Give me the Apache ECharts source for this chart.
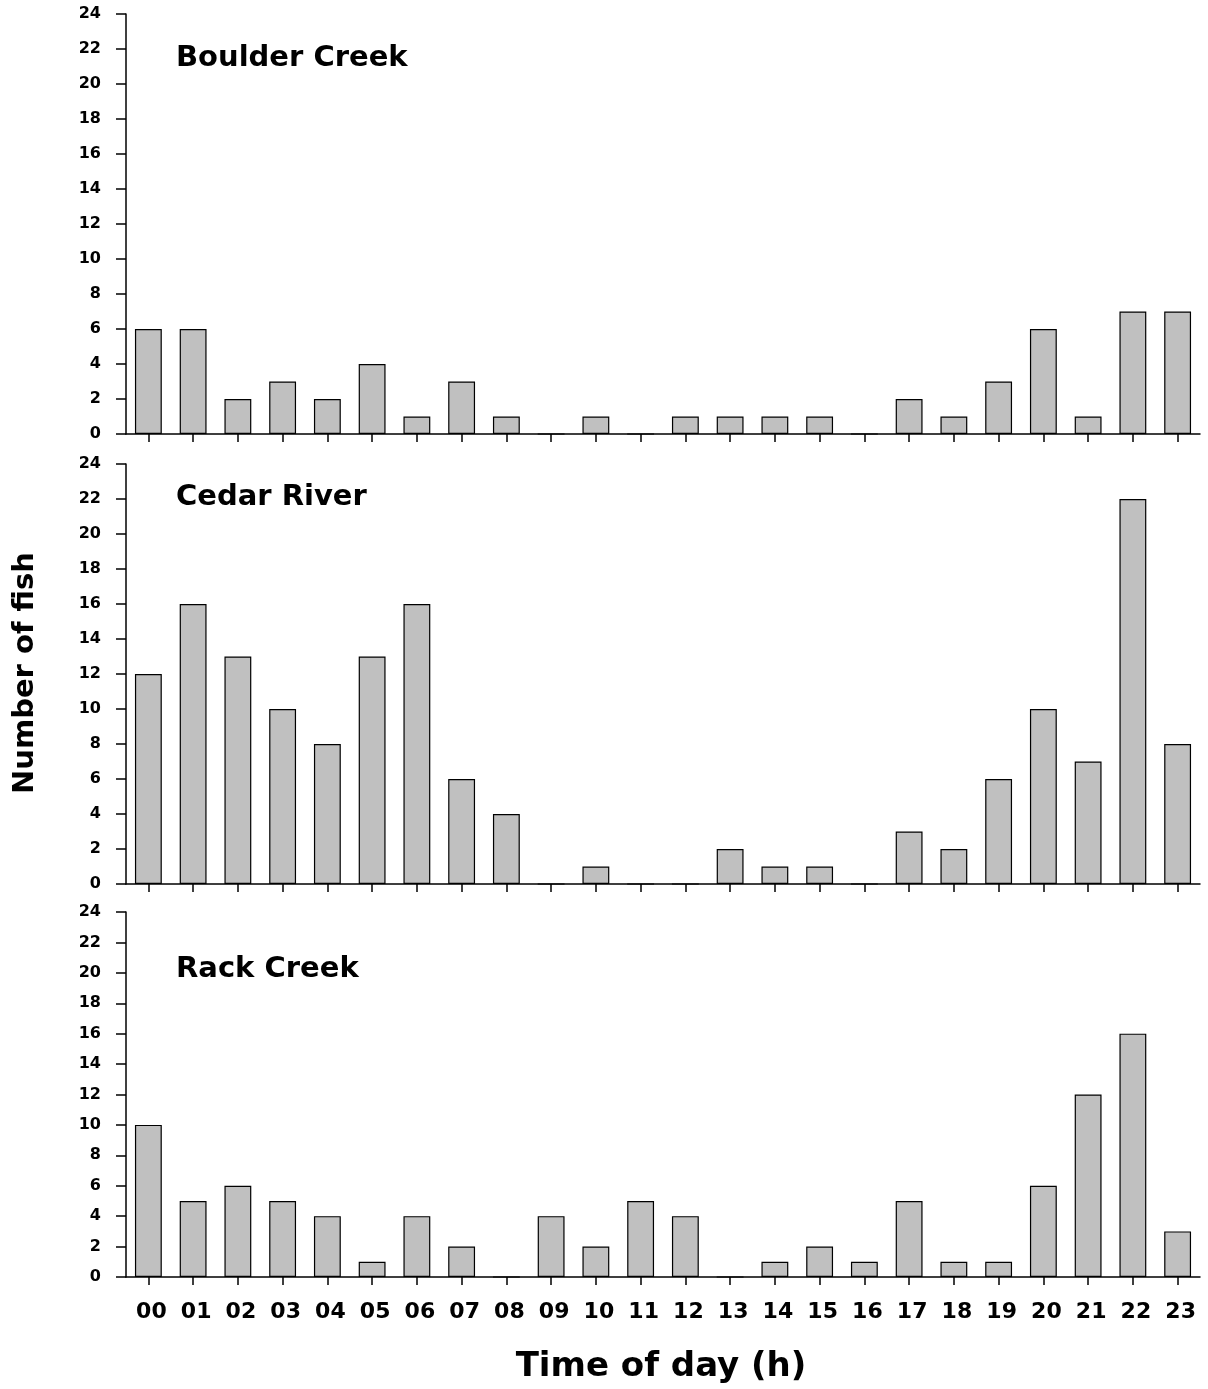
<!DOCTYPE html>
<html>
<head>
<meta charset="utf-8">
<script src="https://cdn.jsdelivr.net/npm/echarts@6/dist/echarts.min.js"></script>
<style>
  html, body { margin: 0; padding: 0; background: #fff; }
  #chart { width: 1208px; height: 1389px; }
</style>
</head>
<body>
<div id="chart"></div>
<script>
// Hours of the day (category axis)
const hours = ['00','01','02','03','04','05','06','07','08','09','10','11',
               '12','13','14','15','16','17','18','19','20','21','22','23'];

// Number of fish per hour at each site
const boulderCreek = [6, 6, 2, 3, 2, 4, 1, 3, 1, 0, 1, 0, 1, 1, 1, 1, 0, 2, 1, 3, 6, 1, 7, 7];
const cedarRiver   = [12, 16, 13, 10, 8, 13, 16, 6, 4, 0, 1, 0, 0, 2, 1, 1, 0, 3, 2, 6, 10, 7, 22, 8];
const rackCreek    = [10, 5, 6, 5, 4, 1, 4, 2, 0, 4, 2, 5, 4, 0, 1, 2, 1, 5, 1, 1, 6, 12, 16, 3];

const siteNames = ['Boulder Creek', 'Cedar River', 'Rack Creek'];
const siteData = [boulderCreek, cedarRiver, rackCreek];

const FONT = 'DejaVu Sans';
const chart = echarts.init(document.getElementById('chart'));

// Panel boxes: top and height of each plot area, plus the site label line
const panels = [
  { top: 14,  height: 420, titleY: 58 },
  { top: 464, height: 420, titleY: 497 },
  { top: 912, height: 365, titleY: 969 }
];

const axisLine = { show: true, lineStyle: { color: '#000', width: 1.5 } };

const grid = panels.map(p => ({ left: 126, right: 8, top: p.top, height: p.height, containLabel: false }));

const xAxis = panels.map((p, i) => ({
  type: 'category',
  gridIndex: i,
  data: hours,
  boundaryGap: true,
  axisLine: axisLine,
  axisTick: { show: true, alignWithLabel: true, length: 8, lineStyle: { color: '#000', width: 1.5 } },
  axisLabel: {
    show: i === 2,
    interval: 0,
    margin: 24,
    color: '#000',
    fontFamily: FONT,
    fontWeight: 'bold',
    fontSize: 22,
    padding: [0, 0, 0, 6]
  },
  splitLine: { show: false }
}));

const yAxis = panels.map((p, i) => ({
  type: 'value',
  gridIndex: i,
  min: 0,
  max: 24,
  interval: 2,
  axisLine: axisLine,
  axisTick: { show: true, length: 10, lineStyle: { color: '#000', width: 1.5 } },
  axisLabel: {
    margin: 25,
    color: '#000',
    fontFamily: FONT,
    fontWeight: 'bold',
    fontSize: 16
  },
  splitLine: { show: false }
}));

const series = siteData.map((vals, i) => ({
  type: 'bar',
  name: siteNames[i],
  xAxisIndex: i,
  yAxisIndex: i,
  data: vals,
  barWidth: '60%',
  itemStyle: { color: '#c0c0c0', borderColor: '#000', borderWidth: 1.2 },
  silent: true
}));

const graphic = panels.map((p, i) => ({
  type: 'text',
  x: 176,
  y: p.titleY,
  style: {
    text: siteNames[i],
    fill: '#000',
    font: 'bold 29px "' + FONT + '"',
    align: 'left',
    verticalAlign: 'middle'
  }
}));

graphic.push({
  type: 'text',
  x: 661,
  y: 1367,
  style: {
    text: 'Time of day (h)',
    fill: '#000',
    font: 'bold 34px "' + FONT + '"',
    align: 'center',
    verticalAlign: 'middle'
  }
});

graphic.push({
  type: 'text',
  x: 25,
  y: 673,
  rotation: Math.PI / 2,
  style: {
    text: 'Number of fish',
    fill: '#000',
    font: 'bold 29px "' + FONT + '"',
    align: 'center',
    verticalAlign: 'middle'
  }
});

chart.setOption({
  animation: false,
  backgroundColor: '#fff',
  grid: grid,
  xAxis: xAxis,
  yAxis: yAxis,
  series: series,
  graphic: graphic
});
</script>
</body>
</html>
